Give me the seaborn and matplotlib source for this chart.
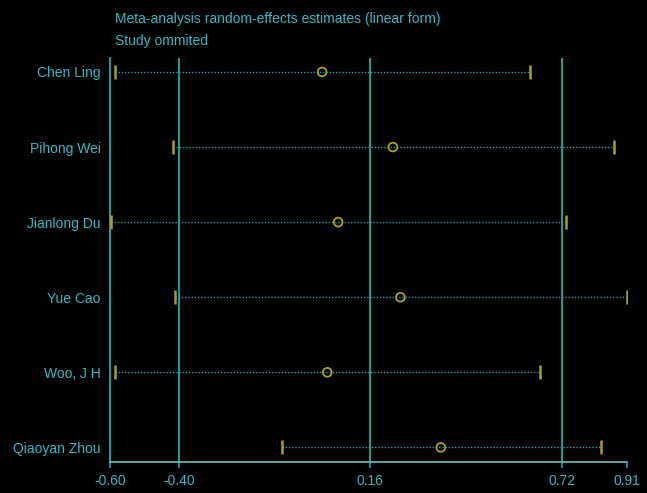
import pandas as pd
import seaborn as sns
import matplotlib.pyplot as plt

studies = ["Chen Ling", "Pihong Wei", "Jianlong Du", "Yue Cao", "Woo, J H", "Qiaoyan Zhou"]
estimate = [0.019, 0.226, 0.066, 0.248, 0.034, 0.366]
lower = [-0.587, -0.417, -0.598, -0.410, -0.587, -0.099]
upper = [0.628, 0.872, 0.731, 0.909, 0.656, 0.835]
ref_lines = [-0.40, 0.16, 0.72]
xticks = [-0.60, -0.40, 0.16, 0.72, 0.91]

df = pd.DataFrame({"study": studies, "est": estimate, "lo": lower, "hi": upper})
df["row"] = range(len(df))

teal = "#35b6c4"
line_teal = "#1f9ea3"
olive = "#a99d2c"

sns.set_theme(style="dark", rc={"axes.facecolor": "black", "figure.facecolor": "black"})
plt.rcParams["font.family"] = ["Liberation Sans", "DejaVu Sans"]
fs = 10

fig = plt.figure(figsize=(6.47, 4.93), dpi=100)
ax = fig.add_axes([0.1705, 0.0635, 0.7985, 0.818])

for v in ref_lines:
    ax.axvline(v, color=line_teal, lw=1.4, zorder=1)

ax.hlines(df["row"], df["lo"], df["hi"], colors=line_teal, linestyles=(0, (1, 1.3)), lw=1.0, zorder=2)
sns.scatterplot(data=df, x="lo", y="row", marker="|", s=90, color=olive, linewidth=1.8, ax=ax, zorder=3)
sns.scatterplot(data=df, x="hi", y="row", marker="|", s=90, color=olive, linewidth=1.8, ax=ax, zorder=3)
sns.scatterplot(data=df, x="est", y="row", marker="o", s=40, facecolor="none", edgecolor=olive, linewidth=1.3, ax=ax, zorder=4)

ax.set_xlim(-0.60, 0.91)
ax.set_ylim(len(df) - 1 + 0.19, -0.18)
ax.set_xticks(xticks)
ax.set_xticklabels([f"{t:.2f}" for t in xticks])
ax.set_xticks([0.91], minor=True)
ax.set_yticks(df["row"])
ax.set_yticklabels(studies)
ax.set_xlabel("")
ax.set_ylabel("")
ax.grid(False)

for s in ["top", "right"]:
    ax.spines[s].set_visible(False)
ax.spines["left"].set_color(line_teal)
ax.spines["left"].set_linewidth(1.4)
ax.spines["bottom"].set_color("#6fc0c4")
ax.spines["bottom"].set_linewidth(1.2)

ax.tick_params(axis="x", which="major", direction="out", length=4, width=1.2, color=line_teal,
               labelcolor=teal, labelsize=fs, pad=5, bottom=True)
ax.tick_params(axis="x", which="minor", direction="in", length=5, width=1.2, color="#6fc0c4", bottom=True)
ax.tick_params(axis="y", length=0, labelcolor=teal, labelsize=fs, pad=7)

fig.text(0.178, 0.962, "Meta-analysis random-effects estimates (linear form)", color=teal, fontsize=fs, va="center")
fig.text(0.178, 0.917, "Study ommited", color=teal, fontsize=fs, va="center")

fig.savefig("out.png", dpi=100, facecolor="black")
